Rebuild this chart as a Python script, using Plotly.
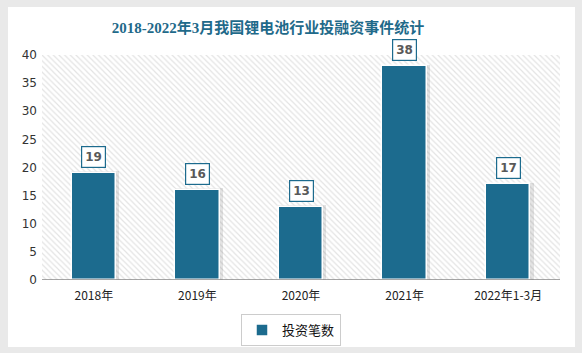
import plotly.graph_objects as go

categories = ["2018年", "2019年", "2020年", "2021年", "2022年1-3月"]
values = [19, 16, 13, 38, 17]
series_name = "投资笔数"
y_ticks = [0, 5, 10, 15, 20, 25, 30, 35, 40]

BAR = "#1c6b8e"
W, H = 582, 353
L, R, T, B = 42, 22, 55, 73
pw, ph = W - L - R, H - T - B

xs = list(range(len(categories)))
n = len(categories)
fig = go.Figure()

# hatched plot background (base axes)
fig.add_trace(go.Scatter(
    x=[-0.5, n - 0.5, n - 0.5, -0.5, -0.5],
    y=[0, 0, 40, 40, 0], mode="lines", line=dict(width=0),
    fill="toself", fillcolor="white",
    fillpattern=dict(shape="\\", size=4, solidity=0.3, fgcolor="#c8c8c8", bgcolor="white"),
    hoverinfo="skip", showlegend=False, xaxis="x", yaxis="y"))

# soft shadow
fig.add_trace(go.Bar(x=[x + 0.012 for x in xs], y=[v + 0.3 for v in values], width=0.465,
                     marker=dict(color="rgba(90,90,90,0.16)", line=dict(width=0)),
                     hoverinfo="skip", showlegend=False, xaxis="x2", yaxis="y2"))

fig.add_trace(go.Bar(x=xs, y=values, width=0.43, name=series_name,
                     marker=dict(color=BAR, line=dict(color="white", width=1.5)),
                     xaxis="x2", yaxis="y2"))

for x, v in zip(xs, values):
    fig.add_annotation(x=x, y=v, xref="x2", yref="y2", text=f"<b>{v}</b>", showarrow=False,
                       yanchor="bottom", yshift=5,
                       font=dict(size=12, color="#595959", family="DejaVu Sans"),
                       bgcolor="white", bordercolor=BAR, borderwidth=1.2, borderpad=3)

# white card
fig.add_shape(type="rect", xref="paper", yref="paper", layer="below",
              x0=(8 - L) / pw, x1=(575 - L) / pw, y0=(H - B - 347) / ph, y1=(H - B - 7) / ph,
              fillcolor="white", line=dict(width=0))

fig.update_layout(
    width=W, height=H, margin=dict(l=L, r=R, t=T, b=B, autoexpand=False),
    paper_bgcolor="#e9e9e9", plot_bgcolor="rgba(0,0,0,0)",
    barmode="overlay", bargap=0,
    title=dict(text="<b>2018-2022年3月我国锂电池行业投融资事件统计</b>",
               x=(268 - L) / pw, xref="paper", xanchor="center",
               y=(H - 28) / H, yanchor="middle",
               font=dict(size=15, color="#1f6a8a", family="Liberation Serif, Noto Sans CJK SC")),
    xaxis=dict(range=[-0.5, n - 0.5], showgrid=False, zeroline=False, showline=False,
               showticklabels=False, ticks=""),
    yaxis=dict(range=[0, 40], tickvals=y_ticks, showgrid=False, zeroline=False,
               showline=False, ticks="", ticklabelstandoff=4,
               tickfont=dict(size=12, color="#333", family="DejaVu Sans")),
    xaxis2=dict(overlaying="x", tickvals=xs, ticktext=categories, range=[-0.5, n - 0.5],
                showgrid=False, zeroline=False, showline=False, ticks="", side="bottom",
                ticklabelstandoff=7,
                tickfont=dict(size=12, color="#222", family="Noto Sans CJK SC")),
    yaxis2=dict(overlaying="y", range=[0, 40], showgrid=False, zeroline=False,
                showline=False, showticklabels=False, ticks=""),
    legend=dict(orientation="h", x=(291 - L) / pw, xanchor="center",
                yref="container", y=(H - 314) / H, yanchor="top",
                bordercolor="#cccccc", borderwidth=1, bgcolor="white", itemwidth=30,
                font=dict(size=13, color="#111", family="Noto Sans CJK SC")),
    font=dict(family="Noto Sans CJK SC"),
    showlegend=True,
)
fig.add_shape(type="line", xref="paper", yref="y", x0=0, x1=1, y0=0, y1=0,
              line=dict(color="#888888", width=1.5))

fig.write_html("out.html")
